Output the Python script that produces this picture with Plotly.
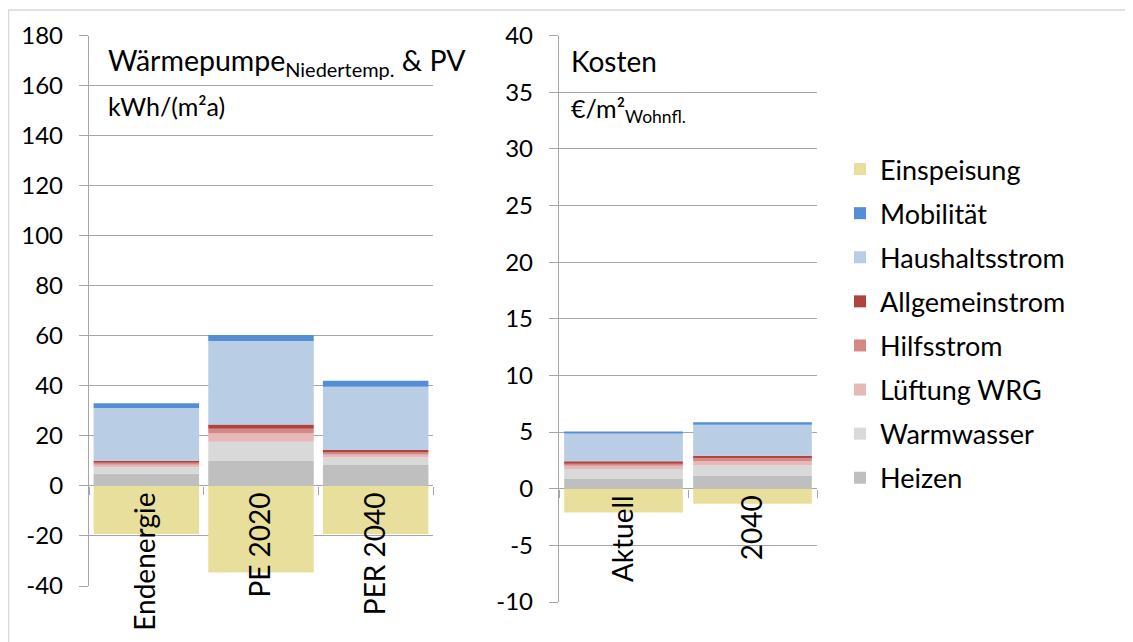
import plotly.graph_objects as go

# ---------------- data ----------------
cat_energy = ["Endenergie", "PE 2020", "PER 2040"]
cat_cost = ["Aktuell", "2040"]

series = ["Heizen", "Warmwasser", "Lüftung WRG", "Hilfsstrom", "Allgemeinstrom",
          "Haushaltsstrom", "Mobilität", "Einspeisung"]

heizen_e = [4.9, 10.0, 8.4]
warmwasser_e = [2.6, 7.6, 3.1]
lueftung_e = [1.0, 3.3, 1.2]
hilfsstrom_e = [0.8, 1.9, 0.7]
allgemein_e = [0.8, 1.7, 1.0]
haushalt_e = [21.0, 33.4, 25.2]
mobilitaet_e = [1.9, 2.4, 2.4]
einspeisung_e = [-19.2, -34.6, -19.2]

heizen_k = [0.86, 1.12]
warmwasser_k = [0.88, 0.95]
lueftung_k = [0.38, 0.37]
hilfsstrom_k = [0.15, 0.24]
allgemein_k = [0.15, 0.23]
haushalt_k = [2.48, 2.74]
mobilitaet_k = [0.15, 0.21]
einspeisung_k = [-2.1, -1.32]

energy_ticks = [-40, -20, 0, 20, 40, 60, 80, 100, 120, 140, 160, 180]
cost_ticks = [-10, -5, 0, 5, 10, 15, 20, 25, 30, 35, 40]

colors = {
    "Heizen": "#BFBFBF",
    "Warmwasser": "#D9D9D9",
    "Lüftung WRG": "#E6B9B8",
    "Hilfsstrom": "#D58886",
    "Allgemeinstrom": "#AE4341",
    "Haushaltsstrom": "#B9CDE5",
    "Mobilität": "#558ED5",
    "Einspeisung": "#E9DF9D",
}

energy_vals = [heizen_e, warmwasser_e, lueftung_e, hilfsstrom_e, allgemein_e,
               haushalt_e, mobilitaet_e, einspeisung_e]
cost_vals = [heizen_k, warmwasser_k, lueftung_k, hilfsstrom_k, allgemein_k,
             haushalt_k, mobilitaet_k, einspeisung_k]

# ---------------- layout geometry ----------------
# page body has an 8px margin: screen px -> figure px
OFF = 8
W, H = 1133 - OFF, 642 - OFF
FONT = "Lato, Carlito, Calibri, sans-serif"
GRID = "#A6A6A6"
FS_TICK = 24
FS_CAT = 28
FS_LEG = 27


def px(x):
    return (x - OFF) / W


def py(y):
    return 1 - (y - OFF) / H


x1_dom = [px(89), px(433)]
x2_dom = [px(559), px(817)]
y1_dom = [py(586), py(35.5)]
y2_dom = [py(602), py(35.5)]
y1_rng = [-40, 180]
y2_rng = [-10, 40]


def zero_pos(dom, rng):
    return dom[0] + (0 - rng[0]) / (rng[1] - rng[0]) * (dom[1] - dom[0])


fig = go.Figure()

n = len(series)
for i, (name, ve, vk) in enumerate(zip(series, energy_vals, cost_vals)):
    fig.add_trace(go.Bar(x=cat_energy, y=ve, name=name, legendgroup=name,
                         legendrank=n - i,
                         marker=dict(color=colors[name], line=dict(width=0)),
                         xaxis="x", yaxis="y"))
    fig.add_trace(go.Bar(x=cat_cost, y=vk, name=name, legendgroup=name,
                         showlegend=False, legendrank=n - i,
                         marker=dict(color=colors[name], line=dict(width=0)),
                         xaxis="x2", yaxis="y2"))

yax_common = dict(showgrid=True, gridcolor=GRID, gridwidth=1.3,
                  showline=True, linecolor=GRID, linewidth=1.3,
                  ticks="outside", ticklen=9, tickcolor=GRID, tickwidth=1.3,
                  zeroline=True, zerolinecolor=GRID, zerolinewidth=1.3,
                  tickfont=dict(family=FONT, size=FS_TICK, color="#000000"),
                  ticklabelstandoff=11, automargin=False, fixedrange=True)

xax_common = dict(type="category", showgrid=False, showline=False, zeroline=False,
                  ticks="outside", tickson="boundaries", ticklen=8,
                  tickcolor=GRID, tickwidth=1.3, tickangle=-90,
                  anchor="free", automargin=False,
                  tickfont=dict(family=FONT, size=FS_CAT, color="#000000"),
                  fixedrange=True)

fig.update_layout(
    width=W, height=H,
    margin=dict(l=0, r=0, t=0, b=0, autoexpand=False),
    paper_bgcolor="white", plot_bgcolor="white",
    barmode="relative", bargap=0.08,
    font=dict(family=FONT, size=FS_TICK, color="#000000"),
    xaxis=dict(domain=x1_dom, position=zero_pos(y1_dom, y1_rng), **xax_common),
    yaxis=dict(domain=y1_dom, range=y1_rng, tickvals=energy_ticks,
               ticktext=[str(v) for v in energy_ticks], anchor="x", **yax_common),
    xaxis2=dict(domain=x2_dom, position=zero_pos(y2_dom, y2_rng), **xax_common),
    yaxis2=dict(domain=y2_dom, range=y2_rng, tickvals=cost_ticks,
                ticktext=[str(v) for v in cost_ticks], anchor="x2", **yax_common),
    legend=dict(x=px(840), y=py(145), xanchor="left", yanchor="top",
                traceorder="grouped", tracegroupgap=6,
                font=dict(family=FONT, size=FS_LEG, color="#000000"),
                itemwidth=30, bgcolor="rgba(0,0,0,0)"),
    showlegend=True,
)

annots = [
    dict(text="Wärmepumpe<sub>Niedertemp.</sub> & PV", x=px(106), y=py(62), size=28.5),
    dict(text="kWh/(m²a)", x=px(106), y=py(106), size=25),
    dict(text="Kosten", x=px(569), y=py(61), size=28),
    dict(text="€/m²<sub>Wohnfl.</sub>", x=px(569), y=py(110), size=25),
]
for a in annots:
    fig.add_annotation(text=a["text"], x=a["x"], y=a["y"], xref="paper", yref="paper",
                       xanchor="left", yanchor="middle", showarrow=False,
                       font=dict(family=FONT, size=a["size"], color="#000000"))

# outer chart frame
fig.add_shape(type="rect", xref="paper", yref="paper",
              x0=px(8.5), x1=1.02, y0=-0.03, y1=py(10),
              line=dict(color="#D9D9D9", width=1.5), fillcolor="rgba(0,0,0,0)",
              layer="below")

fig.write_html("out.html")
